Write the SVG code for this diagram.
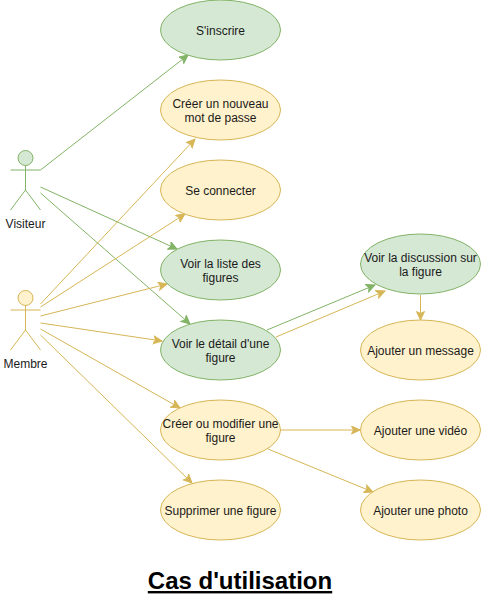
<svg xmlns="http://www.w3.org/2000/svg" width="481" height="595" viewBox="0 0 481 595">
<style>
text{font-family:"Liberation Sans",Arial,sans-serif;font-size:12px;fill:#1a1a1a;text-anchor:middle}
.g{fill:#d5e8d4;stroke:#82b366;stroke-width:1}
.y{fill:#fff2cc;stroke:#d6b656;stroke-width:1}
.lg,.ag{stroke:#82b366;stroke-width:1;fill:none}
.ly,.ay{stroke:#d6b656;stroke-width:1;fill:none}
.lg{marker-end:url(#mg)}
.ly{marker-end:url(#my)}
.title{font-size:24px;font-weight:bold;text-decoration:underline;fill:#000}
</style>
<defs>
<marker id="mg" markerUnits="userSpaceOnUse" markerWidth="12" markerHeight="10" refX="9" refY="4.500" orient="auto"><path d="M0.500 0.500L9 4.500L0.500 8.500L2.500 4.500Z" fill="#82b366" stroke="#82b366"/></marker>
<marker id="my" markerUnits="userSpaceOnUse" markerWidth="12" markerHeight="10" refX="9" refY="4.500" orient="auto"><path d="M0.500 0.500L9 4.500L0.500 8.500L2.500 4.500Z" fill="#d6b656" stroke="#d6b656"/></marker>
</defs>
<rect width="481" height="595" fill="#fff"/>
<g id="connectors">
<path class="lg" d="M40.500 170L188 55"/>
<path class="lg" d="M40.500 187L177 249"/>
<path class="lg" d="M40.500 193L190 324"/>
<path class="ly" d="M40.500 304L195 139"/>
<path class="ly" d="M40.500 307L185 214"/>
<path class="ly" d="M40.500 316L167 284"/>
<path class="ly" d="M40.500 323L162 341"/>
<path class="ly" d="M40.500 329L180 408"/>
<path class="ly" d="M40.500 335L192 483"/>
<path class="lg" d="M267 330L375 285"/>
<path class="ly" d="M276 337L385 291"/>
<path class="ly" d="M420.500 295L420.500 320"/>
<path class="ly" d="M280.500 430L360 430"/>
<path class="ly" d="M268 449L373 492"/>
</g>
<g id="visiteur"><circle class="g" cx="25.500" cy="158" r="7.500"/><path class="ag" d="M25.500 165.500V190M10.500 170H40.500M25.500 190L10.500 210M25.500 190L40.500 210"/><text x="25.500" y="228">Visiteur</text></g>
<g id="membre"><circle class="y" cx="25.500" cy="298" r="7.500"/><path class="ay" d="M25.500 305.500V330M10.500 310H40.500M25.500 330L10.500 350M25.500 330L40.500 350"/><text x="25.500" y="368">Membre</text></g>
<g id="sinscrire"><ellipse class="g" cx="220.500" cy="30" rx="60" ry="30"/><text x="220.500" y="35">S'inscrire</text></g>
<g id="nouveau-mdp"><ellipse class="y" cx="220.500" cy="110" rx="60" ry="30"/><text x="220.500" y="108">Créer un nouveau</text><text x="220.500" y="122">mot de passe</text></g>
<g id="connecter"><ellipse class="y" cx="220.500" cy="190" rx="60" ry="30"/><text x="220.500" y="195">Se connecter</text></g>
<g id="liste"><ellipse class="g" cx="220.500" cy="270" rx="60" ry="30"/><text x="220.500" y="268">Voir la liste des</text><text x="220.500" y="282">figures</text></g>
<g id="detail"><ellipse class="g" cx="220.500" cy="350" rx="60" ry="30"/><text x="220.500" y="348">Voir le détail d'une</text><text x="220.500" y="362">figure</text></g>
<g id="creer"><ellipse class="y" cx="220.500" cy="430" rx="60" ry="30"/><text x="220.500" y="428">Créer ou modifier une</text><text x="220.500" y="442">figure</text></g>
<g id="supprimer"><ellipse class="y" cx="220.500" cy="510" rx="60" ry="30"/><text x="220.500" y="515">Supprimer une figure</text></g>
<g id="discussion"><ellipse class="g" cx="420.500" cy="264" rx="60" ry="30"/><text x="420.500" y="262">Voir la discussion sur</text><text x="420.500" y="276">la figure</text></g>
<g id="message"><ellipse class="y" cx="420.500" cy="350" rx="60" ry="30"/><text x="420.500" y="355">Ajouter un message</text></g>
<g id="video"><ellipse class="y" cx="420.500" cy="430" rx="60" ry="30"/><text x="420.500" y="435">Ajouter une vidéo</text></g>
<g id="photo"><ellipse class="y" cx="420.500" cy="510" rx="60" ry="30"/><text x="420.500" y="515">Ajouter une photo</text></g>
<text class="title" x="240" y="589">Cas d'utilisation</text>
</svg>
